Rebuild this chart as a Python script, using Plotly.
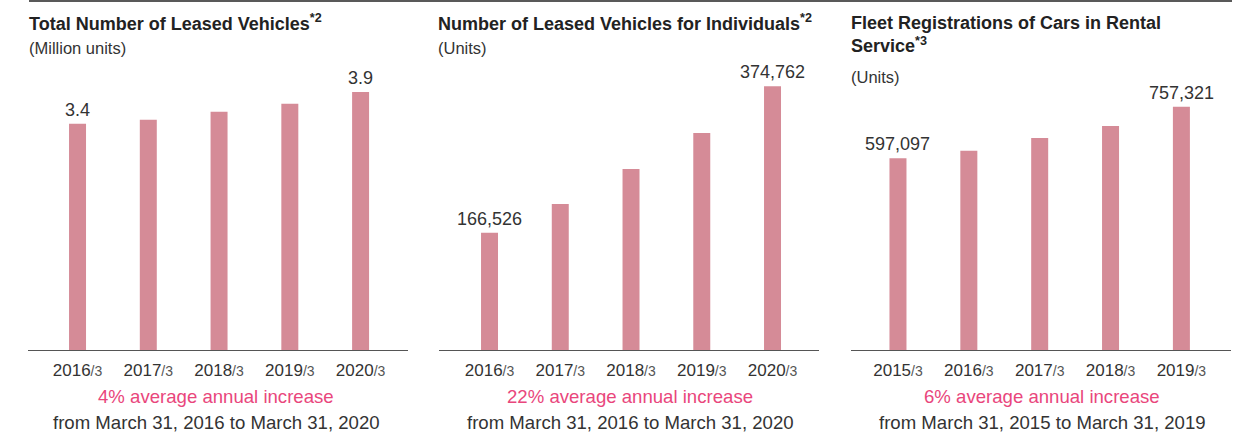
import plotly.graph_objects as go

W, H = 1237, 434

# ---- data ----
cats1 = ["2016", "2017", "2018", "2019", "2020"]
vals1 = [3.42, 3.48, 3.60, 3.72, 3.90]
labels1 = ["3.4", "", "", "", "3.9"]

cats2 = ["2016", "2017", "2018", "2019", "2020"]
vals2 = [166526, 207400, 257100, 308200, 374762]
labels2 = ["166,526", "", "", "", "374,762"]

cats3 = ["2015", "2016", "2017", "2018", "2019"]
vals3 = [597097, 620500, 660000, 697400, 757321]
labels3 = ["597,097", "", "", "", "757,321"]

titles = ["Total Number of Leased Vehicles<sup>*2</sup>",
          "Number of Leased Vehicles for Individuals<sup>*2</sup>",
          "Fleet Registrations of Cars in Rental<br>Service<sup>*3</sup>"]
units = ["(Million units)", "(Units)", "(Units)"]
growth = ["4% average annual increase", "22% average annual increase", "6% average annual increase"]
periods = ["from March 31, 2016 to March 31, 2020",
           "from March 31, 2016 to March 31, 2020",
           "from March 31, 2015 to March 31, 2019"]

BAR = "#d58b97"
DARK = "#333333"
PINK = "#e9467c"
FONT = "Liberation Sans, Arial, sans-serif"

def px(x):
    return x / W

def py(y):
    return (H - y) / H

fig = go.Figure()

panels = [
    (cats1, vals1, labels1, (28, 408), [-0.70, 4.67], 4.534),
    (cats2, vals2, labels2, (439, 819), [-0.714, 4.657], 426136),
    (cats3, vals3, labels3, (851, 1231), [-0.663, 4.70], 934000),
]

ann = []
ydom = [py(350), py(50)]
layout_axes = {}
for i, (cats, vals, labs, (x0, x1), xr, ymax) in enumerate(panels):
    n = i + 1
    xa = "x" if n == 1 else f"x{n}"
    ya = "y" if n == 1 else f"y{n}"
    fig.add_trace(go.Bar(
        x=list(range(len(cats))), y=vals,
        marker=dict(color=BAR, line=dict(width=0)),
        width=0.24, xaxis=xa, yaxis=ya, showlegend=False, hoverinfo="skip",
    ))
    for j, (v, lab) in enumerate(zip(vals, labs)):
        if lab:
            ann.append(dict(x=j, y=v, xref=xa, yref=ya, xanchor="center", yanchor="bottom",
                            yshift=2, text=lab, showarrow=False,
                            font=dict(size=18, color=DARK, family=FONT)))
    key = "" if n == 1 else str(n)
    layout_axes[f"xaxis{key}"] = dict(
        domain=[px(x0), px(x1)], range=xr, anchor=ya,
        tickmode="array", tickvals=list(range(len(cats))),
        ticktext=[f"{c}<span style='font-size:14px;color:#555'>/3</span>" for c in cats],
        tickfont=dict(size=17, color=DARK, family=FONT),
        showline=True, linecolor="#555555", linewidth=1,
        showgrid=False, zeroline=False, ticks="", ticklabelstandoff=5,
        fixedrange=True,
    )
    layout_axes[f"yaxis{key}"] = dict(
        domain=ydom, range=[0, ymax], anchor=xa, visible=False,
        showgrid=False, zeroline=False, fixedrange=True,
    )

fig.update_layout(**layout_axes)

title_pos = [(27, 22), (436, 22), (849, 34)]
unit_pos = [(27, 48), (436, 48), (849, 77)]
centers = [216, 630, 1042]
for i in range(3):
    tx, ty = title_pos[i]
    ann.append(dict(x=px(tx), y=py(ty), xref="paper", yref="paper", xanchor="left", yanchor="middle",
                    text=f"<b>{titles[i]}</b>", showarrow=False, align="left",
                    font=dict(size=18, color="#222222", family=FONT)))
    ux, uy = unit_pos[i]
    ann.append(dict(x=px(ux), y=py(uy), xref="paper", yref="paper", xanchor="left", yanchor="middle",
                    text=units[i], showarrow=False,
                    font=dict(size=16.5, color=DARK, family=FONT)))
    ann.append(dict(x=px(centers[i]), y=py(396), xref="paper", yref="paper", xanchor="center", yanchor="middle",
                    text=growth[i], showarrow=False,
                    font=dict(size=18.6, color=PINK, family=FONT)))
    ann.append(dict(x=px(centers[i]), y=py(422), xref="paper", yref="paper", xanchor="center", yanchor="middle",
                    text=periods[i], showarrow=False,
                    font=dict(size=18.6, color=DARK, family=FONT)))

fig.update_layout(
    width=W, height=H, margin=dict(l=0, r=0, t=0, b=0),
    paper_bgcolor="white", plot_bgcolor="white",
    annotations=ann,
    shapes=[dict(type="line", xref="paper", yref="paper", x0=px(29), x1=px(1232), y0=py(1), y1=py(1),
                 line=dict(color="#222222", width=1.5))],
    font=dict(family=FONT),
)

fig.write_html("out.html")
